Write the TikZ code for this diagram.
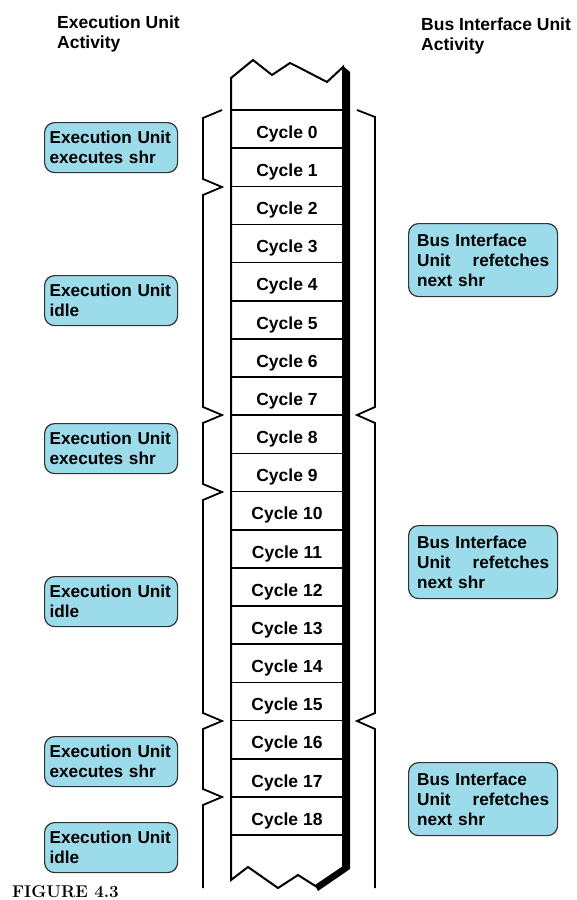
\documentclass[tikz,border=0pt]{standalone}
\usepackage{fontspec}
\setmainfont{Liberation Sans}
\definecolor{boxcyan}{RGB}{156,219,234}
\tikzset{
cycle row/.style = { rectangle, draw = black, line width = 1.6pt, minimum width = 112pt, minimum height = 38.16pt, inner sep = 0pt, text height = 18.5pt, text depth = 0pt, font = \fontsize{17.5}{19}\selectfont\bfseries },
eu box/.style = { rectangle, draw = black!80, fill = boxcyan, line width = 1.2pt, rounded corners = 10pt, anchor = north west, minimum width = 133pt, minimum height = 50pt, text width = 123pt, inner xsep = 5pt, align = left, font = \fontsize{17.2}{20}\selectfont\bfseries },
biu box/.style = { rectangle, draw = black!80, fill = boxcyan, line width = 1.2pt, rounded corners = 10pt, anchor = north west, minimum width = 149pt, minimum height = 73pt, text width = 132pt, inner xsep = 8.5pt, align = left, font = \fontsize{17.2}{20}\selectfont\bfseries },
heading/.style = { anchor = north west, inner sep = 0pt, align = left, font = \fontsize{17.5}{20}\selectfont\bfseries },
brace/.style = { draw = black, line width = 1.8pt, line join = miter },
}
\begin{document}
\begin{tikzpicture}[x = 1pt, y = -1pt]
    \useasboundingbox (0, 0) rectangle (577, 900);
    % headings
    \node[heading] (euhead) at (57, 16) {Execution Unit\\Activity};
    \node[heading] (biuhead) at (421, 18) {Bus Interface Unit\\Activity};
    % the cycles
    \foreach \i in {0, ..., 18} {
        \node[cycle row] (c\i) at (287, {110 + 38.16*(\i + 0.5)}) {Cycle \i};
    }
    % column with torn ends
    \path[draw = black, line width = 2pt, line join = miter] (343, 67) -- (327, 82) -- (300, 68) -- (290, 63) -- (272, 75) -- (253, 60) -- (231, 78) -- (231, 880) -- (248, 867) -- (278, 888) -- (298, 875) -- (317, 887) -- (343, 868) -- cycle;
    \path[fill = black] (343, 66) -- (350, 72) -- (350, 869) -- (318, 891) -- (315, 885) -- (343, 866) -- cycle;
    % braces
    \path[brace] (222, 110) -- (203, 118) -- (203, 179) -- (222, 187) -- (203, 195) -- (203, 407) -- (222, 415) -- (203, 423) -- (203, 484) -- (222, 492) -- (203, 500) -- (203, 713) -- (222, 721) -- (203, 729) -- (203, 789) -- (222, 797) -- (203, 805) -- (203, 888);
    \path[brace] (357, 110) -- (375, 117) -- (375, 407) -- (357, 415) -- (375, 423) -- (375, 713) -- (357, 721) -- (375, 729) -- (375, 888);
    % execution unit
    \node[eu box] (eu1) at (44, 122) {Execution Unit\\executes shr};
    \node[eu box] (eu2) at (44, 275) {Execution Unit\\idle};
    \node[eu box] (eu3) at (44, 423) {Execution Unit\\executes shr};
    \node[eu box] (eu4) at (44, 576) {Execution Unit\\idle};
    \node[eu box] (eu5) at (44, 736) {Execution Unit\\executes shr};
    \node[eu box] (eu6) at (44, 822) {Execution Unit\\idle};
    % bus interface unit
    \node[biu box] (biu1) at (408, 223) {Bus Interface\\Unit \hfill refetches\\next shr};
    \node[biu box] (biu2) at (408, 525) {Bus Interface\\Unit \hfill refetches\\next shr};
    \node[biu box] (biu3) at (408, 762) {Bus Interface\\Unit \hfill refetches\\next shr};
    % caption
    \node[anchor = south west, inner sep = 0pt, font = \fontspec{Latin Modern Roman}\fontsize{17}{19}\selectfont\bfseries] (fig) at (12, 898) {FIGURE 4.3};
\end{tikzpicture}
\end{document}
